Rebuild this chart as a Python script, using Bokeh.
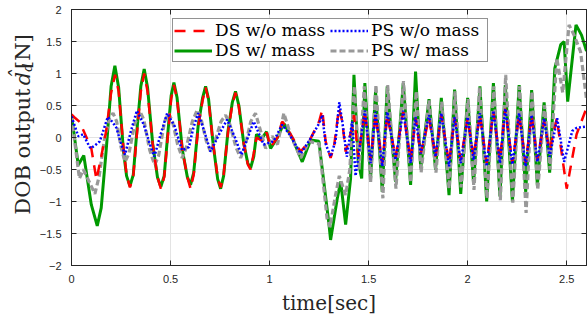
import numpy as np
from bokeh.plotting import figure
from bokeh.layouts import row
from bokeh.models import Legend, LegendItem, FixedTicker, LinearAxis, Range1d
from bokeh.core.properties import value
from bokeh.embed import file_html
from bokeh.resources import INLINE

# ---------------- data ----------------
x_ticks = [0, 0.5, 1, 1.5, 2, 2.5]
y_ticks = [-2, -1.5, -1, -0.5, 0, 0.5, 1, 1.5, 2]

# DS w/o mass (red dashed)
ds_nomass_t = [0.000, 0.020, 0.042, 0.100, 0.126, 0.150, 0.175, 0.200, 0.220, 0.238, 0.262, 0.278,
               0.295, 0.312, 0.330, 0.350, 0.367, 0.384, 0.410, 0.434, 0.451, 0.468, 0.490, 0.503,
               0.517, 0.533, 0.560, 0.585, 0.601, 0.617, 0.640, 0.662, 0.677, 0.692, 0.715, 0.738,
               0.753, 0.768, 0.790, 0.812, 0.828, 0.845, 0.870, 0.890, 0.904, 0.920, 0.934, 0.960,
               0.985, 1.005, 1.040, 1.064, 1.098, 1.157, 1.200, 1.250, 1.266, 1.283, 1.308, 1.325,
               1.350, 1.367, 1.384, 1.417, 1.426, 1.448, 1.481, 1.510, 1.535, 1.569, 1.594, 1.636,
               1.675, 1.712, 1.737, 1.763, 1.805, 1.838, 1.867, 1.906, 1.934, 1.965, 2.000, 2.030,
               2.062, 2.096, 2.130, 2.163, 2.190, 2.226, 2.260, 2.293, 2.323, 2.352, 2.386, 2.414,
               2.450, 2.500, 2.550, 2.600]
ds_nomass_v = [0.36, 0.30, 0.24, -0.17, -0.66, -0.30, 0.10, 0.70, 0.98, 0.72, -0.15, -0.58,
               -0.78, -0.60, 0.05, 0.72, 1.00, 0.72, -0.10, -0.62, -0.80, -0.62, 0.15, 0.60,
               0.82, 0.60, -0.20, -0.62, -0.80, -0.58, 0.18, 0.58, 0.78, 0.58, -0.10, -0.62,
               -0.78, -0.58, 0.08, 0.52, 0.70, 0.48, -0.10, -0.42, -0.50, -0.25, 0.00, -0.05,
               0.08, -0.15, 0.00, 0.25, 0.09, -0.22, -0.06, 0.25, 0.43, -0.06, -0.32, -0.15,
               0.45, 0.25, -0.22, 0.15, 0.35, -0.30, 0.40, -0.35, 0.35, -0.40, 0.35, -0.30,
               0.40, -0.35, 0.30, -0.25, 0.30, -0.30, 0.35, -0.40, 0.30, -0.35, 0.30, -0.30,
               0.35, -0.40, 0.40, -0.35, 0.45, -0.40, 0.35, -0.40, 0.35, -0.35, 0.25, -0.20,
               0.30, -0.80, 0.05, 0.46]

# PS w/o mass (blue dotted)
ps_nomass_t = [0.000, 0.034, 0.059, 0.080, 0.096, 0.120, 0.143, 0.165, 0.183, 0.205, 0.227, 0.250,
               0.270, 0.300, 0.330, 0.365, 0.395, 0.418, 0.450, 0.483, 0.520, 0.558, 0.593, 0.615,
               0.640, 0.670, 0.702, 0.745, 0.786, 0.825, 0.858, 0.890, 0.920, 0.970, 1.020, 1.064,
               1.100, 1.157, 1.200, 1.250, 1.266, 1.283, 1.308, 1.333, 1.352, 1.367, 1.390, 1.417,
               1.434, 1.481, 1.510, 1.535, 1.569, 1.594, 1.636, 1.675, 1.712, 1.737, 1.763, 1.805,
               1.838, 1.867, 1.906, 1.934, 1.965, 2.000, 2.030, 2.062, 2.096, 2.130, 2.163, 2.190,
               2.226, 2.260, 2.293, 2.323, 2.352, 2.386, 2.414, 2.452, 2.487, 2.528, 2.550, 2.600]
ps_nomass_v = [0.33, 0.02, 0.05, -0.08, -0.17, -0.12, -0.06, 0.15, 0.32, 0.25, 0.15, -0.10,
               -0.27, 0.10, 0.42, 0.20, -0.10, -0.30, 0.05, 0.38, 0.18, -0.20, -0.15, 0.15,
               0.38, 0.10, -0.22, 0.05, 0.28, 0.00, -0.27, 0.00, 0.25, -0.11, -0.06, 0.20,
               0.05, -0.25, -0.05, 0.22, 0.35, -0.10, -0.30, -0.05, 0.55, 0.25, -0.30, 0.25,
               -0.60, 0.42, -0.40, 0.40, -0.45, 0.40, -0.35, 0.42, -0.40, 0.32, -0.25, 0.35,
               -0.30, 0.38, -0.45, 0.32, -0.40, 0.32, -0.35, 0.38, -0.45, 0.42, -0.40, 0.45,
               -0.42, 0.38, -0.45, 0.35, -0.38, 0.30, -0.30, 0.30, -0.38, 0.10, 0.15, 0.17]

# DS w/ mass (green solid)
ds_mass_t = [0.000, 0.034, 0.062, 0.100, 0.130, 0.150, 0.175, 0.200, 0.219, 0.238, 0.262, 0.278,
             0.295, 0.312, 0.330, 0.350, 0.367, 0.384, 0.410, 0.434, 0.451, 0.468, 0.490, 0.503,
             0.517, 0.533, 0.560, 0.585, 0.601, 0.617, 0.640, 0.662, 0.677, 0.692, 0.715, 0.738,
             0.753, 0.768, 0.790, 0.812, 0.828, 0.845, 0.870, 0.890, 0.904, 0.920, 0.934, 0.959,
             0.985, 1.005, 1.040, 1.072, 1.115, 1.165, 1.207, 1.249, 1.300, 1.308, 1.342, 1.359,
             1.384, 1.409, 1.426, 1.448, 1.465, 1.481, 1.510, 1.535, 1.569, 1.594, 1.636, 1.675,
             1.712, 1.737, 1.763, 1.805, 1.838, 1.867, 1.906, 1.934, 1.965, 2.000, 2.030, 2.062,
             2.096, 2.130, 2.163, 2.190, 2.226, 2.260, 2.293, 2.323, 2.352, 2.386, 2.414, 2.440,
             2.470, 2.487, 2.505, 2.547, 2.575, 2.600]
ds_mass_v = [0.35, -0.43, -0.28, -1.05, -1.38, -1.10, -0.20, 0.80, 1.12, 0.78, -0.20, -0.60,
             -0.76, -0.58, 0.10, 0.80, 1.07, 0.78, -0.10, -0.62, -0.77, -0.60, 0.20, 0.65,
             0.86, 0.62, -0.20, -0.62, -0.74, -0.55, 0.20, 0.62, 0.80, 0.60, -0.10, -0.65,
             -0.80, -0.60, 0.10, 0.55, 0.72, 0.50, -0.10, -0.40, -0.48, -0.30, 0.05, -0.02,
             0.09, -0.17, 0.00, 0.22, -0.01, -0.38, -0.04, -0.06, -1.36, -1.60, -0.95, -0.69,
             -1.36, -0.64, 0.98, -0.38, -0.64, 0.85, -0.64, 0.72, -0.85, 0.80, -0.69, 0.85,
             -0.74, 1.03, -0.48, 0.60, -0.50, 0.62, -0.90, 0.75, -0.88, 0.62, -0.72, 0.80,
             -1.00, 0.85, -0.92, 0.82, -1.00, 0.82, -0.85, 0.74, -0.75, 0.55, -0.55, 1.08,
             1.45, 1.50, 0.56, 1.76, 1.60, 1.35]

# PS w/ mass (grey dash)
ps_mass_t = [0.000, 0.040, 0.060, 0.118, 0.140, 0.165, 0.192, 0.210, 0.228, 0.250, 0.270, 0.290,
             0.318, 0.345, 0.365, 0.395, 0.420, 0.440, 0.470, 0.490, 0.510, 0.535, 0.559, 0.580,
             0.610, 0.635, 0.655, 0.680, 0.702, 0.725, 0.755, 0.778, 0.800, 0.830, 0.854, 0.875,
             0.905, 0.929, 0.955, 0.980, 1.013, 1.040, 1.072, 1.106, 1.157, 1.200, 1.250, 1.290,
             1.305, 1.333, 1.352, 1.384, 1.405, 1.428, 1.452, 1.478, 1.510, 1.537, 1.572, 1.596,
             1.638, 1.676, 1.712, 1.740, 1.765, 1.805, 1.840, 1.869, 1.906, 1.936, 1.967, 2.002,
             2.032, 2.060, 2.098, 2.132, 2.165, 2.192, 2.228, 2.262, 2.295, 2.325, 2.354, 2.388,
             2.416, 2.450, 2.480, 2.512, 2.537, 2.570, 2.600]
ps_mass_v = [0.33, -0.64, -0.50, -0.88, -0.60, -0.05, 0.30, 0.38, 0.25, -0.15, -0.38, -0.25,
             0.20, 0.41, 0.28, -0.20, -0.43, -0.28, 0.25, 0.38, 0.25, -0.10, -0.32, -0.15,
             0.25, 0.43, 0.28, -0.05, -0.22, -0.05, 0.25, 0.35, 0.20, -0.15, -0.32, -0.15,
             0.25, 0.38, 0.10, -0.17, 0.02, -0.11, 0.38, 0.04, -0.32, -0.06, -0.10, -1.26,
             -1.40, -0.90, -0.60, -0.90, -0.50, 0.80, -0.50, 0.80, -0.70, 0.82, -0.95, 0.82,
             -0.80, 0.88, -0.70, 0.72, -0.55, 0.58, -0.55, 0.56, -0.80, 0.72, -0.78, 0.60,
             -0.82, 0.78, -0.95, 0.80, -0.98, 0.98, -1.02, 0.80, -1.18, 0.72, -0.82, 0.50,
             -0.50, 1.24, 0.70, 1.76, 1.60, 1.34, 0.60]

TXT = "#262626"

# ---------------- main figure ----------------
p = figure(width=551, height=321, output_backend="svg", toolbar_location=None,
           x_range=Range1d(0, 2.6), y_range=Range1d(-2, 2),
           min_border_left=35, min_border_right=1, min_border_top=9, min_border_bottom=56)
p.background_fill_color = "white"
p.border_fill_color = "white"
p.outline_line_color = TXT
p.outline_line_width = 1

for ax, tk in ((p.xaxis[0], x_ticks), (p.yaxis[0], y_ticks)):
    ax.ticker = FixedTicker(ticks=tk)
    ax.major_tick_in = 5
    ax.major_tick_out = 0
    ax.minor_tick_in = 0
    ax.minor_tick_out = 0
    ax.axis_line_color = TXT
    ax.major_tick_line_color = TXT
    ax.major_label_text_font = "Liberation Sans"
    ax.major_label_text_font_size = "11px"
    ax.major_label_text_color = TXT
p.yaxis.major_label_standoff = 10
p.xaxis.major_label_standoff = 9

p.xaxis.axis_label = "time[sec]"
p.xaxis.axis_label_text_font = "DejaVu Serif"
p.xaxis.axis_label_text_font_style = "normal"
p.xaxis.axis_label_text_font_size = "20px"
p.xaxis.axis_label_text_color = TXT
p.xaxis.axis_label_standoff = 5

p.xgrid.ticker = FixedTicker(ticks=x_ticks)
p.ygrid.ticker = FixedTicker(ticks=y_ticks)
p.grid.grid_line_color = "#e3e3e3"
p.grid.grid_line_width = 1

# mirrored ticks on top and right (box on)
for loc, tk in (("above", x_ticks), ("right", y_ticks)):
    ax = LinearAxis(ticker=FixedTicker(ticks=tk),
                    major_label_overrides={t: "" for t in tk},
                    major_tick_in=5, major_tick_out=0, minor_tick_in=0, minor_tick_out=0,
                    major_label_standoff=0, major_label_text_font_size="1px",
                    axis_line_color=TXT, major_tick_line_color=TXT)
    p.add_layout(ax, loc)

# ---------------- series ----------------
r_green = p.line(ds_mass_t, ds_mass_v, line_color="#009900", line_width=3)
r_grey = p.line(ps_mass_t, ps_mass_v, line_color="#999999", line_width=3.2, line_dash="6 3")
r_red = p.line(ds_nomass_t, ds_nomass_v, line_color="#ff0000", line_width=2.5, line_dash="11 8")
r_blue = p.line(ps_nomass_t, ps_nomass_v, line_color="#0000ff", line_width=2.5, line_dash="2 2")

legend = Legend(items=[LegendItem(label="DS w/o mass", renderers=[r_red]),
                       LegendItem(label="DS w/ mass", renderers=[r_green]),
                       LegendItem(label="PS w/o mass", renderers=[r_blue]),
                       LegendItem(label="PS w/ mass", renderers=[r_grey])],
                location=(101, 203), nrows=2, orientation="vertical")
legend.label_text_font = "DejaVu Serif"
legend.label_text_font_size = "17px"
legend.label_text_color = "#000000"
legend.glyph_width = 38
legend.glyph_height = 17
legend.label_height = 17
legend.label_width = 115
legend.label_standoff = 3
legend.spacing = 0
legend.padding = 1
legend.margin = 0
legend.border_line_color = TXT
legend.border_line_width = 1
legend.background_fill_alpha = 1
p.add_layout(legend)

# ---------------- y label strip (hat and subscript) ----------------
lab = figure(width=36, height=321, output_backend="svg", toolbar_location=None,
             x_range=Range1d(0, 36), y_range=Range1d(0, 321),
             min_border_left=0, min_border_right=0, min_border_top=0, min_border_bottom=0)
lab.axis.visible = False
lab.grid.visible = False
lab.outline_line_color = None
lab.background_fill_color = "white"
lab.border_fill_color = "white"

ylab_font = value("DejaVu Serif")
ang = np.pi / 2
lab.text(x=[22], y=[222], text=["DOB output"], angle=ang, text_align="right",
         text_baseline="middle", text_font=ylab_font, text_font_size=value("21px"),
         text_color=TXT)
lab.text(x=[22], y=[226], text=["d\u0302"], angle=ang, text_align="left",
         text_baseline="middle", text_font=ylab_font, text_font_style="italic",
         text_font_size=value("21px"), text_color=TXT)
lab.text(x=[27], y=[243], text=["d"], angle=ang, text_align="left",
         text_baseline="middle", text_font=ylab_font, text_font_style="italic",
         text_font_size=value("13px"), text_color=TXT)
lab.text(x=[22], y=[290], text=["[N]"], angle=ang, text_align="right",
         text_baseline="middle", text_font=ylab_font, text_font_size=value("21px"),
         text_color=TXT)

layout = row(lab, p, spacing=0)
open("out.html", "w").write(file_html(layout, INLINE))
